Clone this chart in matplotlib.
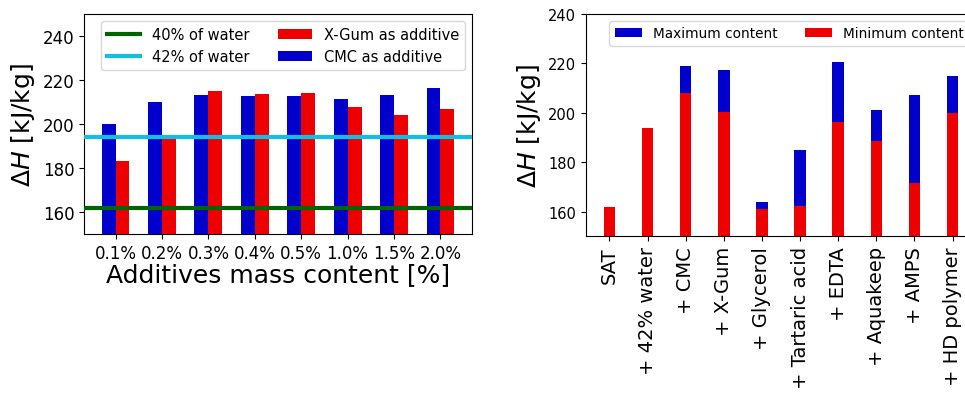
import matplotlib
matplotlib.use("Agg")
import matplotlib.pyplot as plt
import numpy as np

# Left chart data
contents = ["0.1%", "0.2%", "0.3%", "0.4%", "0.5%", "1.0%", "1.5%", "2.0%"]
cmc_values = [200.0, 209.9, 213.2, 212.8, 212.6, 211.5, 213.2, 216.4]
xgum_values = [183.2, 193.6, 214.9, 213.7, 214.3, 207.8, 204.0, 206.8]
water40 = 161.8
water42 = 194.2

# Right chart data
samples = ["SAT", "+ 42% water", "+ CMC", "+ X-Gum", "+ Glycerol",
           "+ Tartaric acid", "+ EDTA", "+ Aquakeep", "+ AMPS", "+ HD polymer"]
max_content = [161.7, 194.0, 219.1, 217.2, 164.0, 185.1, 220.6, 201.0, 207.2, 214.9]
min_content = [161.7, 194.0, 208.0, 200.2, 161.1, 162.4, 196.2, 188.6, 171.5, 199.9]

BLUE = "#0000CD"
RED = "#EE0000"
GREEN = "#006400"
CYAN = "#14BEE0"

W, H = 965, 406
fig = plt.figure(figsize=(W / 100, H / 100), dpi=100)

ax1 = fig.add_axes([84 / W, 1 - 235 / H, (472 - 84) / W, (235 - 15) / H])
x = np.arange(len(contents))
bw = 0.3
ax1.bar(x - bw / 2, cmc_values, bw, color=BLUE, label="CMC as additive", zorder=2)
ax1.bar(x + bw / 2, xgum_values, bw, color=RED, label="X-Gum as additive", zorder=2)
ax1.axhline(water40, color=GREEN, lw=3, label="40% of water", zorder=3)
ax1.axhline(water42, color=CYAN, lw=3, label="42% of water", zorder=3)
ax1.set_ylim(150, 250)
ax1.set_yticks([160, 180, 200, 220, 240])
ax1.set_xticks(x)
ax1.set_xticklabels(contents)
ax1.tick_params(labelsize=12)
ax1.set_xlabel("Additives mass content [%]", fontsize=18, labelpad=0)
ax1.set_ylabel(r"$\Delta H$ [kJ/kg]", fontsize=18)
h, l = ax1.get_legend_handles_labels()
order = [l.index("40% of water"), l.index("42% of water"),
         l.index("X-Gum as additive"), l.index("CMC as additive")]
ax1.legend([h[i] for i in order], [l[i] for i in order], ncol=2,
           loc="upper right", fontsize=10.5, handlelength=2.3)

ax2 = fig.add_axes([586 / W, 1 - 237.3 / H, (976 - 586) / W, (237.3 - 15) / H])
x2 = np.arange(len(samples))
ax2.bar(x2, max_content, 0.3, color=BLUE, label="Maximum content", zorder=2)
ax2.bar(x2, min_content, 0.3, color=RED, label="Minimum content", zorder=3)
ax2.set_ylim(150, 240)
ax2.set_yticks([160, 180, 200, 220, 240])
ax2.set_xticks(x2)
ax2.set_xticklabels(samples, rotation=90, fontsize=14)
ax2.tick_params(axis="y", labelsize=10.5)
ax2.set_ylabel(r"$\Delta H$ [kJ/kg]", fontsize=18)
ax2.legend(ncol=2, loc="upper right", fontsize=9.8)

fig.savefig("out.png", dpi=100)
